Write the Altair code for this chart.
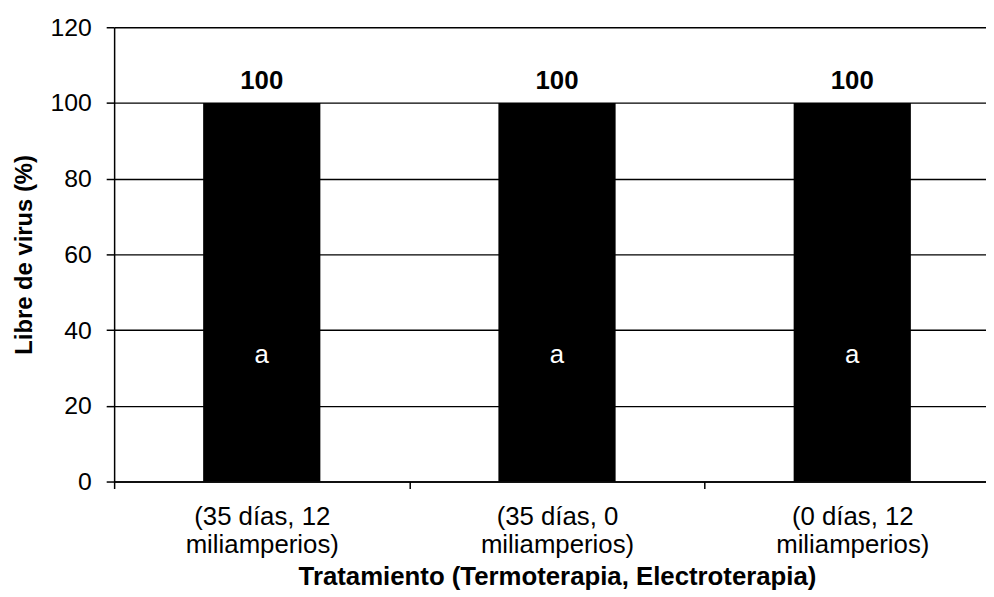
import altair as alt
import pandas as pd

categories = ["(35 días, 12\nmiliamperios)", "(35 días, 0\nmiliamperios)", "(0 días, 12\nmiliamperios)"]
values = [100, 100, 100]
letters = ["a", "a", "a"]
y_ticks = [0, 20, 40, 60, 80, 100, 120]

df = pd.DataFrame({"cat": categories, "val": values, "letter": letters})

FONT = "Liberation Sans"
Y_TITLE = "Libre de virus (%)"

x_enc = alt.X(
    "cat:N",
    sort=categories,
    scale=alt.Scale(paddingInner=0, paddingOuter=0, range=[0, 893]),
    axis=alt.Axis(
        title="Tratamiento (Termoterapia, Electroterapia)",
        labelAngle=0,
        labelExpr="split(datum.label, '\\n')",
        labelFontSize=26,
        labelLineHeight=29,
        labelPadding=15,
        labelBaseline="top",
        tickBand="extent",
        tickSize=7,
        grid=False,
        titleFontSize=26,
        titlePadding=6,
    ),
)

y_scale = alt.Scale(domain=[0, 120], nice=False)
y_axis = alt.Axis(
    title=Y_TITLE,
    values=y_ticks,
    tickSize=8,
    labelFontSize=25,
    labelPadding=15,
    titleFontSize=24,
    titlePadding=14,
    grid=True,
)

base = alt.Chart(df)

bars = base.mark_bar(color="black", width=alt.RelativeBandSize(0.397)).encode(
    x=x_enc,
    y=alt.Y("val:Q", scale=y_scale, axis=y_axis),
)

value_text = base.mark_text(
    baseline="alphabetic", dy=-14, fontSize=26, fontWeight="bold", font=FONT, color="black"
).encode(
    x=x_enc,
    y=alt.Y("val:Q", scale=y_scale, title=Y_TITLE),
    text=alt.Text("val:Q"),
)

letter_text = base.transform_calculate(ly="datum.val / 3").mark_text(
    baseline="middle", fontSize=26, font=FONT, color="white"
).encode(
    x=x_enc,
    y=alt.Y("ly:Q", scale=y_scale, title=Y_TITLE),
    text=alt.Text("letter:N"),
)

chart = (
    alt.layer(bars, value_text, letter_text)
    .properties(
        width=879,
        height=458,
        autosize=alt.AutoSizeParams(type="none"),
        padding={"left": 107, "top": 17, "right": 0, "bottom": 114},
        background="white",
    )
    .configure_view(strokeWidth=0)
    .configure_axis(
        labelFont=FONT,
        labelColor="black",
        titleFont=FONT,
        titleFontWeight="bold",
        titleColor="black",
        domainColor="black",
        domainWidth=1.5,
        tickColor="black",
        tickWidth=1.5,
        gridColor="black",
        gridWidth=1.4,
        gridOpacity=1,
    )
)

chart.save("out.html", embed_options={"renderer": "svg", "actions": False})
